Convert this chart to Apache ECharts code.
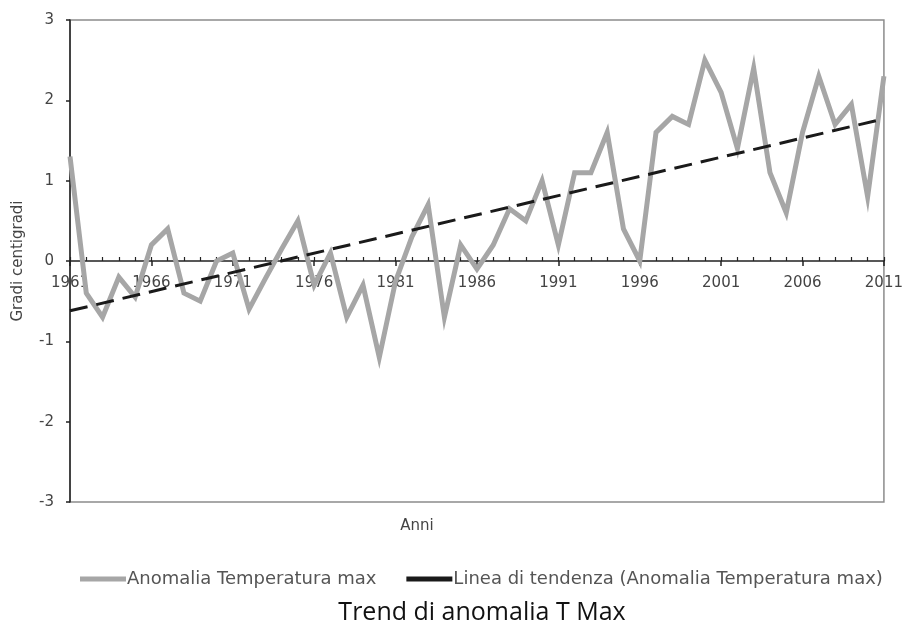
<!DOCTYPE html>
<html>
<head>
<meta charset="utf-8">
<script src="https://cdn.jsdelivr.net/npm/echarts@6/dist/echarts.min.js"></script>
<style>
  html, body { margin: 0; padding: 0; background: #fff; }
  #chart { width: 906px; height: 630px; }
</style>
</head>
<body>
<div id="chart"></div>
<script>
// anni 1961-2011
var years = [];
for (var y = 1961; y <= 2011; y++) years.push(String(y));

// anomalia temperatura max (gradi)
var anomalia = [
  1.3, -0.4, -0.7, -0.2, -0.45, 0.2, 0.4, -0.4, -0.5, 0.0,
  0.1, -0.6, -0.22, 0.15, 0.5, -0.3, 0.1, -0.7, -0.3, -1.2,
  -0.25, 0.3, 0.7, -0.7, 0.2, -0.1, 0.2, 0.65, 0.5, 1.0,
  0.2, 1.1, 1.1, 1.6, 0.4, 0.0, 1.6, 1.8, 1.7, 2.5,
  2.1, 1.4, 2.4, 1.1, 0.6, 1.6, 2.3, 1.7, 1.95, 0.8,
  2.3
];

// linea di tendenza: valori agli estremi
var trendStart = -0.62;
var trendEnd = 1.77;

var yTicks = { min: -3, max: 3, interval: 1 };

var trend = years.map(function (d, i) {
  if (i === 0) return trendStart;
  if (i === years.length - 1) return trendEnd;
  return null;
});

var chart = echarts.init(document.getElementById("chart"));
var font = "DejaVu Sans";
var gridTop = 20, gridBottom = 128;
// asse x sullo zero (metà altezza del grid)
var zeroOffset = -(630 - gridTop - gridBottom) / 2;

chart.setOption({
  animation: false,
  title: [
    {
      text: "Anni",
      left: 412,
      top: 514,
      textAlign: "center",
      textStyle: { fontFamily: font, fontSize: 15, fontWeight: "normal", color: "#444" }
    },
    {
      text: "Trend di anomalia T Max",
      left: 477,
      top: 595,
      textAlign: "center",
      textStyle: { fontFamily: "Open Sans", fontSize: 25, fontWeight: "normal", color: "#111" }
    }
  ],
  legend: {
    left: 75,
    top: 565,
    itemGap: 30,
    itemWidth: 46,
    itemHeight: 5,
    icon: "rect",
    textStyle: { fontFamily: font, fontSize: 18, color: "#555", padding: [0, 0, 0, -4] },
    data: [
      { name: "Anomalia Temperatura max" },
      { name: "Linea di tendenza (Anomalia Temperatura max)" }
    ]
  },
  grid: {
    left: 70,
    right: 19,
    top: gridTop,
    bottom: gridBottom,
    show: true,
    borderColor: "#8c8c8c",
    borderWidth: 1.5
  },
  xAxis: [
    {
      type: "category",
      data: years,
      boundaryGap: false,
      position: "bottom",
      offset: zeroOffset,
      axisLine: { onZero: false, lineStyle: { color: "#222", width: 1.5 } },
      axisTick: { interval: 4, length: 5, lineStyle: { color: "#222", width: 1.5 } },
      axisLabel: {
        interval: 4,
        margin: 15,
        fontFamily: font,
        fontSize: 15,
        color: "#444"
      },
      splitLine: { show: false }
    },
    {
      type: "category",
      data: years,
      boundaryGap: false,
      position: "bottom",
      offset: zeroOffset,
      axisLine: { show: false, onZero: false },
      axisTick: { interval: 0, inside: true, length: 4, lineStyle: { color: "#222", width: 1.2 } },
      axisLabel: { show: false },
      splitLine: { show: false }
    }
  ],
  yAxis: {
    type: "value",
    min: yTicks.min,
    max: yTicks.max,
    interval: yTicks.interval,
    name: "Gradi centigradi",
    nameLocation: "middle",
    nameGap: 44,
    nameTextStyle: { fontFamily: font, fontSize: 15, color: "#444" },
    axisLine: { show: true, lineStyle: { color: "#222", width: 1.5 } },
    axisTick: { show: true, length: 4, lineStyle: { color: "#222", width: 1.5 } },
    axisLabel: { margin: 16, fontFamily: font, fontSize: 15, color: "#444" },
    splitLine: { show: false }
  },
  series: [
    {
      name: "Anomalia Temperatura max",
      type: "line",
      data: anomalia,
      symbol: "none",
      color: "#a6a6a6",
      lineStyle: { color: "#a6a6a6", width: 5, join: "miter" },
      z: 3
    },
    {
      name: "Linea di tendenza (Anomalia Temperatura max)",
      type: "line",
      data: trend,
      connectNulls: true,
      symbol: "none",
      color: "#1a1a1a",
      lineStyle: { color: "#1a1a1a", width: 3, type: [18, 9] },
      z: 4
    }
  ]
});
</script>
</body>
</html>
